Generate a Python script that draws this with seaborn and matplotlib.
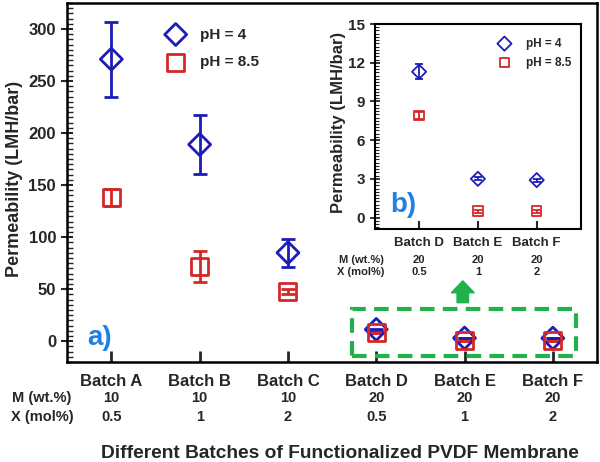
import matplotlib
matplotlib.use("Agg")
import numpy as np
import pandas as pd
import matplotlib.pyplot as plt
import seaborn as sns
from matplotlib.patches import Rectangle
from matplotlib.ticker import MultipleLocator
import matplotlib.transforms as mtransforms

# data
batches = ["Batch A", "Batch B", "Batch C", "Batch D", "Batch E", "Batch F"]
m_wt = ["10", "10", "10", "20", "20", "20"]
x_mol = ["0.5", "1", "2", "0.5", "1", "2"]
perm_ph4 = [271, 189, 85, 11.3, 3.0, 2.9]
err_ph4 = [36, 28, 13.5, 0.6, 0.12, 0.12]
perm_ph85 = [138, 72, 48, 7.9, 0.5, 0.5]
err_ph85 = [8, 15, 2.5, 0.3, 0.12, 0.12]

sns.set_style("ticks")
plt.rcParams["font.family"] = ["Liberation Sans", "DejaVu Sans"]
plt.rcParams["font.weight"] = "bold"
plt.rcParams["axes.labelweight"] = "bold"

blue = "#1c1cb8"
red = "#d42828"
green = "#22b24c"
lblue = "#1f80e6"

df = pd.DataFrame({"batch": batches, "M": m_wt, "X": x_mol,
                   "ph4": perm_ph4, "e4": err_ph4,
                   "ph85": perm_ph85, "e85": err_ph85})
df["pos"] = np.arange(len(df))

fig = plt.figure(figsize=(6, 4.62), dpi=100)
ax = fig.add_axes([0.112, 0.2165, 0.883, 0.777])

# main panel
ax.errorbar(df["pos"], df["ph4"], yerr=df["e4"], fmt="none", ecolor=blue,
            elinewidth=2, capsize=5, capthick=2, zorder=2)
ax.errorbar(df["pos"], df["ph85"], yerr=df["e85"], fmt="none", ecolor=red,
            elinewidth=2, capsize=5, capthick=2, zorder=2)
sns.scatterplot(x=df["pos"], y=df["ph4"], marker="D", s=125, color="none",
                edgecolor=blue, linewidth=2, ax=ax, label="pH = 4", zorder=3)
sns.scatterplot(x=df["pos"], y=df["ph85"], marker="s", s=150, color="none",
                edgecolor=red, linewidth=2, ax=ax, label="pH = 8.5", zorder=3)

ax.set_xlim(-0.5, 5.5)
ax.set_ylim(-20, 325)
ax.set_yticks([0, 50, 100, 150, 200, 250, 300])
ax.yaxis.set_minor_locator(MultipleLocator(5))
ax.set_xticks(df["pos"])
ax.set_xticklabels(df["batch"], fontsize=12, fontweight="bold")
ax.tick_params(axis="x", direction="in", length=8, width=2, pad=9)
ax.tick_params(axis="y", which="major", direction="inout", length=9, width=1.5,
               labelsize=12)
ax.tick_params(axis="y", which="minor", direction="in", length=4, width=1)
for s in ax.spines.values():
    s.set_linewidth(1.8)
    s.set_color("black")
ax.set_xlabel("Different Batches of Functionalized PVDF Membrane", fontsize=13.8)
ax.xaxis.set_label_coords(0.515, -0.232)
ax.set_ylabel("Permeability (LMH/bar)", fontsize=13)
ax.yaxis.set_label_coords(-0.083, 0.51)

leg = ax.legend(loc="upper left", bbox_to_anchor=(0.15, 0.97), frameon=False,
                fontsize=11, scatterpoints=1, handletextpad=0.6,
                labelspacing=0.9, borderaxespad=0.5)

ax.text(0.062, 0.067, "a)", transform=ax.transAxes, color=lblue, fontsize=20,
        fontweight="bold", ha="center", va="center")

tr = mtransforms.blended_transform_factory(ax.transData, fig.transFigure)
for p, m, xm in zip(df["pos"], df["M"], df["X"]):
    ax.text(p, 1 - 398 / 462, m, transform=tr, ha="center", va="center", fontsize=10.5)
    ax.text(p, 1 - 417 / 462, xm, transform=tr, ha="center", va="center", fontsize=10.5)
fig.text(0.07, 1 - 398 / 462, "M (wt.%)", ha="center", va="center", fontsize=10.5)
fig.text(0.07, 1 - 417 / 462, "X (mol%)", ha="center", va="center", fontsize=10.5)

# green box around the low batches and arrow up to the inset
ax.add_patch(Rectangle((df["pos"][3] - 0.28, -14.4),
                       df["pos"][5] - df["pos"][3] + 0.54, 45,
                       fill=False, edgecolor=green, linewidth=3,
                       linestyle=(0, (3.5, 2)), zorder=4))
ax.arrow(3.98, 37, 0, 21, width=0.13, head_width=0.26, head_length=11.5,
         length_includes_head=True, color=green, zorder=4)

# inset
low = df.iloc[3:].reset_index(drop=True)
low["pos"] = np.arange(len(low))
ax2 = fig.add_axes([0.625, 0.504, 0.343, 0.444])
ax2.set_facecolor("white")
ax2.errorbar(low["pos"], low["ph4"], yerr=low["e4"], fmt="none", ecolor=blue,
             elinewidth=1.3, capsize=3, capthick=1.3, zorder=2)
ax2.errorbar(low["pos"], low["ph85"], yerr=low["e85"], fmt="none", ecolor=red,
             elinewidth=1.3, capsize=3, capthick=1.3, zorder=2)
sns.scatterplot(x=low["pos"], y=low["ph4"], marker="D", s=52, color="none",
                edgecolor=blue, linewidth=1.3, ax=ax2, label="pH = 4", zorder=3)
sns.scatterplot(x=low["pos"], y=low["ph85"], marker="s", s=45, color="none",
                edgecolor=red, linewidth=1.3, ax=ax2, label="pH = 8.5", zorder=3)
ax2.set_xlim(-0.75, 2.75)
ax2.set_ylim(-0.9, 15)
ax2.set_yticks([0, 3, 6, 9, 12, 15])
ax2.yaxis.set_minor_locator(MultipleLocator(0.25))
ax2.set_xticks(low["pos"])
ax2.set_xticklabels(low["batch"], fontsize=9.5, fontweight="bold")
ax2.tick_params(axis="x", direction="in", length=6, width=1.5, pad=6)
ax2.tick_params(axis="y", which="major", direction="inout", length=7, width=1.3,
                labelsize=11)
ax2.tick_params(axis="y", which="minor", direction="in", length=3, width=0.8)
for s in ax2.spines.values():
    s.set_linewidth(1.5)
    s.set_color("black")
ax2.set_xlabel("")
ax2.set_ylabel("Permeability (LMH/bar)", fontsize=12)
ax2.yaxis.set_label_coords(-0.14, 0.52)
ax2.legend(loc="upper left", bbox_to_anchor=(0.52, 0.985), frameon=False,
           fontsize=8.5, scatterpoints=1, handletextpad=0.8, labelspacing=0.6)
ax2.text(0.136, 0.117, "b)", transform=ax2.transAxes, color=lblue, fontsize=20,
         fontweight="bold", ha="center", va="center")

tr2 = mtransforms.blended_transform_factory(ax2.transData, fig.transFigure)
for p, m, xm in zip(low["pos"], low["M"], low["X"]):
    ax2.text(p, 1 - 260 / 462, m, transform=tr2, ha="center", va="center", fontsize=8)
    ax2.text(p, 1 - 272 / 462, xm, transform=tr2, ha="center", va="center", fontsize=8)
fig.text(361 / 600, 1 - 260 / 462, "M (wt.%)", ha="center", va="center", fontsize=8)
fig.text(361 / 600, 1 - 272 / 462, "X (mol%)", ha="center", va="center", fontsize=8)

fig.savefig("out.png", dpi=100)
